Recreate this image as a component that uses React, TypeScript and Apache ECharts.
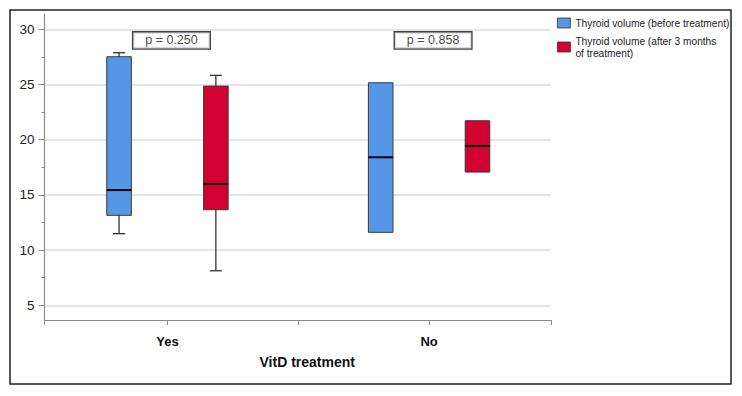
import { useEffect, useRef } from 'react';
import * as echarts from 'echarts';

// Groups on the horizontal axis
const categories = ['Yes', 'No'];
const seriesNames = ['Thyroid volume (before treatment)', 'Thyroid volume (after 3 months of treatment)'];
// Five-number summaries per group: [min, Q1, median, Q3, max]
const beforeStats = [
  [11.49, 13.15, 15.44, 27.52, 27.88],
  [11.61, 11.61, 18.41, 25.16, 25.16],
];
const afterStats = [
  [8.13, 13.66, 15.99, 24.86, 25.83],
  [17.07, 17.07, 19.43, 21.72, 21.72],
];
const pValueLabels = ['p = 0.250', 'p = 0.858'];
const majorTicks = [5, 10, 15, 20, 25, 30];
const minorTicks = [7.5, 12.5, 17.5, 22.5, 27.5];

const BLUE = '#5596E6';
const RED = '#D50032';
const FONT = '"Liberation Sans", Arial, Helvetica, sans-serif';

// layout constants (axis units)
const X_MIN = 0.53;
const X_MAX = 2.466;
const SERIES_OFFSET = 0.185;
const BOX_HALF = 0.047;
const CAP_HALF = 0.023;
const P_LABEL_Y = 29;

const makeBoxRenderer = (offset: number, color: string) => (_params: any, api: any) => {
  const cx = api.value(0) + offset;
  const lo = api.coord([cx, api.value(1)]);
  const q1 = api.coord([cx, api.value(2)]);
  const med = api.coord([cx, api.value(3)]);
  const q3 = api.coord([cx, api.value(4)]);
  const hi = api.coord([cx, api.value(5)]);
  const half = api.size([BOX_HALF, 0])[0];
  const cap = api.size([CAP_HALF, 0])[0];
  const x = lo[0];
  const whisker = { stroke: '#333', lineWidth: 1.3 };
  const children: any[] = [];
  if (q3[1] - hi[1] > 0.5) {
    children.push({ type: 'line', shape: { x1: x, y1: hi[1], x2: x, y2: q3[1] }, style: whisker });
    children.push({ type: 'line', shape: { x1: x - cap, y1: hi[1], x2: x + cap, y2: hi[1] }, style: whisker });
  }
  if (lo[1] - q1[1] > 0.5) {
    children.push({ type: 'line', shape: { x1: x, y1: q1[1], x2: x, y2: lo[1] }, style: whisker });
    children.push({ type: 'line', shape: { x1: x - cap, y1: lo[1], x2: x + cap, y2: lo[1] }, style: whisker });
  }
  children.push({
    type: 'rect',
    shape: { x: x - half, y: q3[1], width: half * 2, height: q1[1] - q3[1] },
    style: { fill: color, stroke: '#3a3a3a', lineWidth: 1 },
  });
  children.push({
    type: 'line',
    shape: { x1: x - half, y1: med[1], x2: x + half, y2: med[1] },
    style: { stroke: '#000', lineWidth: 2 },
  });
  return { type: 'group', children };
};

export default function App() {
  const ref = useRef<HTMLDivElement>(null);

  useEffect(() => {
    if (!ref.current) return;
    const chart = echarts.init(ref.current, undefined, { renderer: 'svg' });

    const option: any = {
      animation: false,
      backgroundColor: '#fff',
      textStyle: { fontFamily: FONT },
      grid: { left: 44.5, right: 191, top: 14, bottom: 76, containLabel: false },
      legend: {
        orient: 'vertical',
        left: 557,
        top: 17,
        padding: 0,
        itemWidth: 13,
        itemHeight: 10,
        itemGap: 0,
        icon: 'rect',
        selectedMode: false,
        itemStyle: { borderColor: '#333', borderWidth: 0.8 },
        textStyle: { fontSize: 10.2, color: '#222', lineHeight: 12, fontFamily: FONT },
        formatter: (name: string) => (name === seriesNames[1] ? name.replace('months ', 'months\n') : name),
        data: [
          { name: seriesNames[0] },
          { name: seriesNames[1], textStyle: { padding: [12, 0, 0, 0] } },
        ],
      },
      xAxis: {
        type: 'value',
        min: X_MIN,
        max: X_MAX,
        name: 'VitD treatment',
        nameLocation: 'middle',
        nameGap: 35,
        nameTextStyle: { fontSize: 14, fontWeight: 'bold', color: '#111', padding: [0, 0, 0, 19] },
        axisLine: { show: true, lineStyle: { color: '#8a8a8a', width: 1.2 } },
        axisTick: { show: true, customValues: [X_MIN, 1, 1.5, 2, X_MAX], length: 5, lineStyle: { color: '#8a8a8a' } },
        axisLabel: {
          customValues: [1, 2],
          formatter: (v: number) => categories[Math.round(v) - 1] ?? '',
          fontSize: 13,
          fontWeight: 'bold',
          color: '#111',
          margin: 15,
        },
        splitLine: { show: false },
      },
      yAxis: [
        {
          type: 'value',
          min: 3.67,
          max: 31.39,
          axisLine: { show: true, lineStyle: { color: '#8a8a8a', width: 1.2 } },
          axisTick: { show: true, customValues: majorTicks, length: 6, lineStyle: { color: '#8a8a8a' } },
          axisLabel: { customValues: majorTicks, fontSize: 13.5, color: '#222', margin: 10 },
          splitLine: { show: true, lineStyle: { color: '#dcdcdc', width: 1.5 } },
        },
        {
          type: 'value',
          min: 3.67,
          max: 31.39,
          position: 'left',
          axisLine: { show: false },
          axisTick: { show: true, customValues: minorTicks, length: 3, lineStyle: { color: '#8a8a8a' } },
          axisLabel: { show: false },
          splitLine: { show: false },
        },
      ],
      series: [
        {
          name: seriesNames[0],
          type: 'custom',
          itemStyle: { color: BLUE },
          renderItem: makeBoxRenderer(-SERIES_OFFSET, BLUE),
          encode: { x: 0, y: [1, 2, 3, 4, 5] },
          data: beforeStats.map((s, i) => [i + 1, ...s]),
        },
        {
          name: seriesNames[1],
          type: 'custom',
          itemStyle: { color: RED },
          renderItem: makeBoxRenderer(SERIES_OFFSET, RED),
          encode: { x: 0, y: [1, 2, 3, 4, 5] },
          data: afterStats.map((s, i) => [i + 1, ...s]),
        },
        {
          name: 'p',
          type: 'scatter',
          symbolSize: 1,
          itemStyle: { color: 'transparent' },
          silent: true,
          data: pValueLabels.map((t, i) => [i + 1, P_LABEL_Y, t]),
          label: {
            show: true,
            position: 'inside',
            offset: [4, 0],
            formatter: (p: any) => p.data[2],
            fontSize: 12.5,
            color: '#111',
            backgroundColor: '#fff',
            borderColor: '#111',
            borderWidth: 1.3,
            padding: [2, 12, 1, 12],
          },
          z: 5,
        },
      ],
      graphic: [
        {
          type: 'rect',
          shape: { x: 10, y: 10, width: 721, height: 374 },
          style: { fill: 'none', stroke: '#222', lineWidth: 1.5 },
          silent: true,
        },
      ],
    };

    chart.setOption(option);
    return () => chart.dispose();
  }, []);

  return (
    <div
      ref={ref}
      style={{ position: 'absolute', left: 0, top: 0, width: 742, height: 396, background: '#fff' }}
    />
  );
}
